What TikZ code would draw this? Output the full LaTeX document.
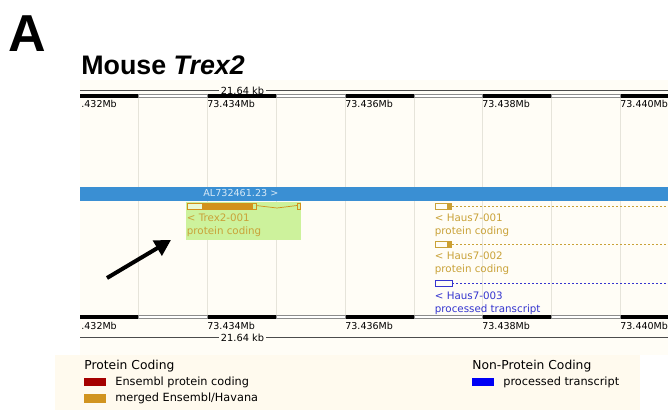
\documentclass[tikz,border=0pt]{standalone}
\usepackage{fontspec}
\setmainfont{DejaVu Sans}
\newfontfamily\headfont{Liberation Sans}
\usepackage{tikz}
\usetikzlibrary{arrows.meta}

\definecolor{panelbg}{HTML}{FFFDF6}
\definecolor{legendbg}{HTML}{FFFAEE}
\definecolor{gridgrey}{HTML}{E6E4DA}
\definecolor{contigblue}{HTML}{3A8FD3}
\definecolor{hilite}{HTML}{CDF29C}
\definecolor{mergedgold}{HTML}{C9A238}
\definecolor{exongold}{HTML}{D2921C}
\definecolor{procblue}{HTML}{3535CF}
\definecolor{ensred}{HTML}{A50000}
\definecolor{legblue}{HTML}{0000F5}

\tikzset{
    mblabel/.style={anchor=west, inner sep=0pt, font=\fontsize{9.5}{11}\selectfont},
    kblabel/.style={inner sep=1.5pt, fill=panelbg, font=\fontsize{9.8}{11}\selectfont},
    genelabel/.style={anchor=west, inner sep=0pt, align=left, font=\fontsize{10.3}{13.2}\selectfont},
    leghead/.style={anchor=west, inner sep=0pt, font=\fontsize{12.3}{14}\selectfont},
    legtext/.style={anchor=west, inner sep=0pt, font=\fontsize{11.3}{13}\selectfont}
}

\begin{document}
\begin{tikzpicture}[x=1pt, y=-1pt, line width=0.8pt]
    \useasboundingbox (0, 0) rectangle (668, 410);

    % draw backgrounds
    \fill[panelbg] (80, 80) rectangle (668, 355);
    \fill[legendbg] (55, 355) rectangle (640, 410);

    % draw headings
    \node[anchor=west, inner sep=0pt, font=\headfont\bfseries\fontsize{52}{52}\selectfont] (panel) at (8, 34) {A};
    \node[anchor=west, inner sep=0pt, font=\headfont\bfseries\fontsize{26.8}{27}\selectfont] (title) at (81, 65) {Mouse \textit{Trex2}};

    % draw grid lines
    \foreach \gx in {138, 207, 276, 345, 414, 482, 551, 620}
        \draw[gridgrey, line width=0.7pt] (\gx, 98) -- (\gx, 315);

    % draw scale bars
    \node[kblabel] (kbtop) at (242.5, 90.5) {21.64 kb};
    \draw[black!70, line width=0.6pt] (80, 90.5) -- (kbtop.west);
    \draw[black!70, line width=0.6pt] (kbtop.east) -- (668, 90.5);
    \node[kblabel] (kbbot) at (242.5, 337.5) {21.64 kb};
    \draw[black!70, line width=0.6pt] (80, 337.5) -- (kbbot.west);
    \draw[black!70, line width=0.6pt] (kbbot.east) -- (668, 337.5);

    % draw rulers
    \foreach \ry in {96, 317} {
        \foreach \ra/\rb in {80/138, 207/276, 345/414, 482/551, 620/668}
            \fill[black] (\ra, \ry-1.8) rectangle (\rb, \ry+1.8);
        \foreach \ra/\rb in {138/207, 276/345, 414/482, 551/620}
            \filldraw[fill=white, draw=black!45, line width=0.6pt] (\ra, \ry-1.3) rectangle (\rb, \ry+1.5);
    }

    % draw ruler labels
    \node[mblabel] (t432) at (81, 104) {.432Mb};
    \node[mblabel] (t434) at (207, 104) {73.434Mb};
    \node[mblabel] (t436) at (345, 104) {73.436Mb};
    \node[mblabel] (t438) at (482, 104) {73.438Mb};
    \node[mblabel] (t440) at (620, 104) {73.440Mb};
    \node[mblabel] (b432) at (81, 326) {.432Mb};
    \node[mblabel] (b434) at (207, 326) {73.434Mb};
    \node[mblabel] (b436) at (345, 326) {73.436Mb};
    \node[mblabel] (b438) at (482, 326) {73.438Mb};
    \node[mblabel] (b440) at (620, 326) {73.440Mb};

    % draw contig
    \fill[contigblue] (80, 187) rectangle (668, 200.5);
    \node[anchor=west, inner sep=0pt, text=white!80!contigblue, font=\fontsize{9.6}{10}\selectfont] (contig) at (203, 193) {AL732461.23 >};

    % draw Trex2 transcript
    \fill[hilite] (185.5, 201.5) rectangle (300.5, 239.5);
    \filldraw[fill=white!60!hilite, draw=exongold, line width=0.7pt] (187, 203) rectangle (202, 209);
    \fill[exongold] (202, 202.5) rectangle (252, 209.5);
    \draw[exongold, line width=0.7pt] (252, 203) rectangle (256, 209);
    \draw[exongold, line width=0.7pt] (256, 205.5) -- (277, 208) -- (297, 205.5);
    \draw[exongold, line width=0.7pt] (297, 203) rectangle (300, 209);
    \node[genelabel, text=mergedgold] (trex) at (186.5, 225) {< Trex2-001\\protein coding};

    % draw Haus7 transcripts
    \filldraw[fill=panelbg, draw=mergedgold, line width=0.7pt] (435, 203.5) rectangle (447, 209);
    \fill[mergedgold!80!exongold] (447, 203) rectangle (452, 209.5);
    \draw[mergedgold, line width=0.7pt, dash pattern=on 2pt off 2pt] (452, 206.5) -- (668, 206.5);
    \node[genelabel, text=mergedgold] (hausA) at (434.5, 225.5) {< Haus7-001\\protein coding};

    \filldraw[fill=panelbg, draw=mergedgold, line width=0.7pt] (435, 241.5) rectangle (447, 247);
    \fill[mergedgold!80!exongold] (447, 241) rectangle (452, 247.5);
    \draw[mergedgold, line width=0.7pt, dash pattern=on 2pt off 2pt] (452, 244.5) -- (668, 244.5);
    \node[genelabel, text=mergedgold] (hausB) at (434.5, 263.5) {< Haus7-002\\protein coding};

    \draw[procblue, line width=0.8pt] (435, 280.5) rectangle (452, 286);
    \draw[procblue, line width=0.7pt, dash pattern=on 2pt off 2pt] (452, 283.5) -- (668, 283.5);
    \node[genelabel, text=procblue] (hausC) at (434.5, 303) {< Haus7-003\\processed transcript};

    % draw arrow
    \coordinate (tail) at (107, 278);
    \coordinate (tip) at (171, 240);
    \draw[line width=4pt, -{Triangle[length=16pt, width=17pt]}] (tail) -- (tip);

    % draw legend
    \node[leghead] (protein) at (84, 366.5) {Protein Coding};
    \fill[ensred] (84, 377.5) rectangle (106, 386);
    \node[legtext] (ensembl) at (115, 382) {Ensembl protein coding};
    \fill[exongold!85!mergedgold] (84, 394) rectangle (106, 402.5);
    \node[legtext] (merged) at (115, 398.5) {merged Ensembl/Havana};
    \node[leghead] (nonprot) at (472, 366.5) {Non-Protein Coding};
    \fill[legblue] (472, 378) rectangle (494, 386);
    \node[legtext] (proc) at (503, 382) {processed transcript};
\end{tikzpicture}
\end{document}
